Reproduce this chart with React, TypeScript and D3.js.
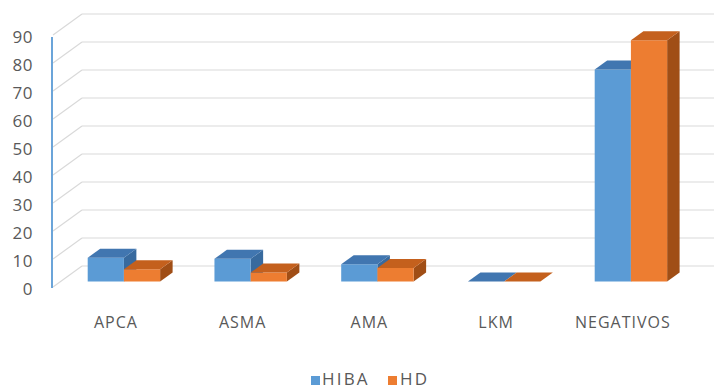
import React from "react";
import * as d3 from "d3";

const categories = ["APCA", "ASMA", "AMA", "LKM", "NEGATIVOS"];
const seriesNames = ["HIBA", "HD"];
const hibaValues = [8.5, 8.1, 6.2, 0, 75.7];
const hdValues = [4.4, 3.2, 4.8, 0, 86.2];
const yTicks = [0, 10, 20, 30, 40, 50, 60, 70, 80, 90];

const W = 714;
const H = 389;

// oblique projection of the 3D box: full depth shift
const DEPTH_DX = 29;
const DEPTH_DY = -21;
// bar slab position inside the depth
const BAR_FRONT = 0.26;
const BAR_DEPTH = 0.43;

const palette = {
  HIBA: { front: "#5B9BD5", top: "#4176B0", side: "#386A9E" },
  HD: { front: "#ED7D31", top: "#C4601D", side: "#A04E16" },
} as Record<string, { front: string; top: string; side: string }>;

export default function App() {
  const y = d3.scaleLinear().domain([0, 90]).range([287, 35]);
  const x = d3
    .scaleBand<string>()
    .domain(categories)
    .range([53, 686.75])
    .paddingInner(0)
    .paddingOuter(0);
  const xs = d3
    .scaleBand<string>()
    .domain(seriesNames)
    .range([0, x.bandwidth()])
    .paddingInner(0)
    .paddingOuter(0.75);

  const proj = (px: number, v: number, depth: number): [number, number] => [
    px + depth * DEPTH_DX,
    y(v) + depth * DEPTH_DY,
  ];
  const poly = (pts: [number, number][]) => pts.map((p) => p.join(",")).join(" ");

  const seriesData: Record<string, number[]> = { HIBA: hibaValues, HD: hdValues };

  const bars: React.ReactNode[] = [];
  categories.forEach((c, i) => {
    seriesNames.forEach((s) => {
      const v = seriesData[s][i];
      const x0 = (x(c) as number) + (xs(s) as number);
      const x1 = x0 + xs.bandwidth();
      const f0 = BAR_FRONT;
      const f1 = BAR_FRONT + BAR_DEPTH;
      const col = palette[s];
      const frontPts = [proj(x0, v, f0), proj(x1, v, f0), proj(x1, 0, f0), proj(x0, 0, f0)];
      const topPts = [proj(x0, v, f0), proj(x0, v, f1), proj(x1, v, f1), proj(x1, v, f0)];
      const sidePts = [proj(x1, v, f0), proj(x1, v, f1), proj(x1, 0, f1), proj(x1, 0, f0)];
      bars.push(
        <g key={`${c}-${s}`}>
          {v > 0 && <polygon points={poly(sidePts)} fill={col.side} />}
          {v > 0 && <polygon points={poly(frontPts)} fill={col.front} />}
          <polygon points={poly(topPts)} fill={col.top} />
        </g>
      );
    });
  });

  const xLeft = 53;
  const xRightBack = W;

  return (
    <svg
      width={W}
      height={H}
      style={{ position: "absolute", left: 0, top: 0, background: "#fff" }}
      fontFamily="'Open Sans', sans-serif"
    >
      {/* gridlines: side wall diagonals and back wall */}
      {yTicks.map((t) => {
        const [fx, fy] = proj(xLeft, t, 0);
        const [bx, by] = proj(xLeft, t, 1);
        return (
          <g key={t} stroke="#D9D9D9" strokeWidth={1.2} fill="none">
            <line x1={fx} y1={fy} x2={bx} y2={by} />
            <line x1={bx} y1={by} x2={xRightBack} y2={by} />
          </g>
        );
      })}

      {/* value axis */}
      <line x1={52} y1={y(90) + 2} x2={52} y2={y(0) + 1} stroke="#5B9BD5" strokeWidth={1.8} />
      {yTicks.map((t) => (
        <text
          key={t}
          x={33}
          y={y(t) + 1.5}
          textAnchor="end"
          dominantBaseline="central"
          fontSize={17}
          letterSpacing={0.5}
          fill="#595959"
        >
          {t}
        </text>
      ))}

      {bars}

      {/* category labels */}
      {categories.map((c) => (
        <text
          key={c}
          x={(x(c) as number) + x.bandwidth() / 2 - 0.5}
          y={328}
          textAnchor="middle"
          fontSize={16}
          letterSpacing={1}
          fill="#595959"
        >
          {c}
        </text>
      ))}

      {/* legend */}
      <g fontSize={17} letterSpacing={2.2} fill="#595959">
        <rect x={311} y={376} width={9} height={9} fill={palette.HIBA.front} />
        <text x={322} y={385}>HIBA</text>
        <rect x={388} y={376} width={9} height={9} fill={palette.HD.front} />
        <text x={400} y={385}>HD</text>
      </g>
    </svg>
  );
}
